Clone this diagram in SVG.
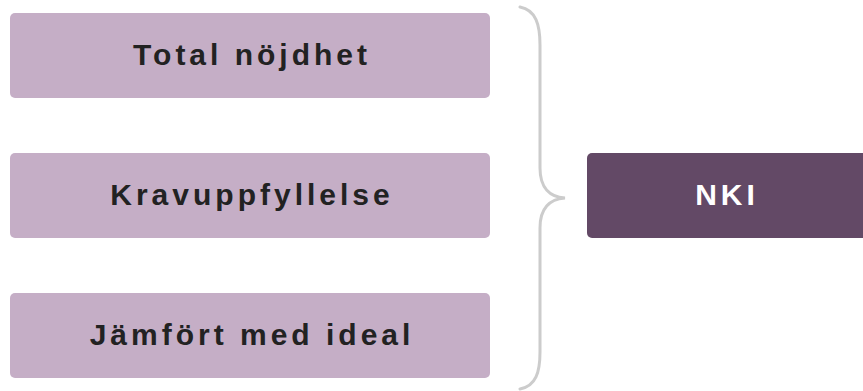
<svg xmlns="http://www.w3.org/2000/svg" width="863" height="391" viewBox="0 0 863 391">
<style>
.light{fill:#c5aec6}
.dark{fill:#634966}
.lbl{font-family:"Liberation Sans",Arial,sans-serif;font-weight:bold;font-size:30px;letter-spacing:4px;text-anchor:middle;fill:#222222}
.lblw{fill:#ffffff}
.brace{fill:none;stroke:#cccccc;stroke-width:3;stroke-linecap:round}
</style>
<rect width="863" height="391" fill="#ffffff"/>
<g id="node-total">
<rect class="light" x="10" y="13" width="480" height="85" rx="5"/>
<text class="lbl" x="252" y="65">Total nöjdhet</text>
</g>
<g id="node-krav">
<rect class="light" x="10" y="153" width="480" height="85" rx="5"/>
<text class="lbl" x="252" y="205">Kravuppfyllelse</text>
</g>
<g id="node-jamfort">
<rect class="light" x="10" y="293" width="480" height="85" rx="5"/>
<text class="lbl" x="252" y="345">Jämfört med ideal</text>
</g>
<g id="node-nki">
<rect class="dark" x="587" y="153" width="290" height="85" rx="5"/>
<text class="lbl lblw" x="727" y="205">NKI</text>
</g>
<g id="connectors">
<path class="brace" d="M520,7 C536,10 540,25 540,45 L540,168 C540,188 550,197 565,198 C550,199 540,208 540,228 L540,352 C540,372 536,386 520,389"/>
</g>
</svg>
